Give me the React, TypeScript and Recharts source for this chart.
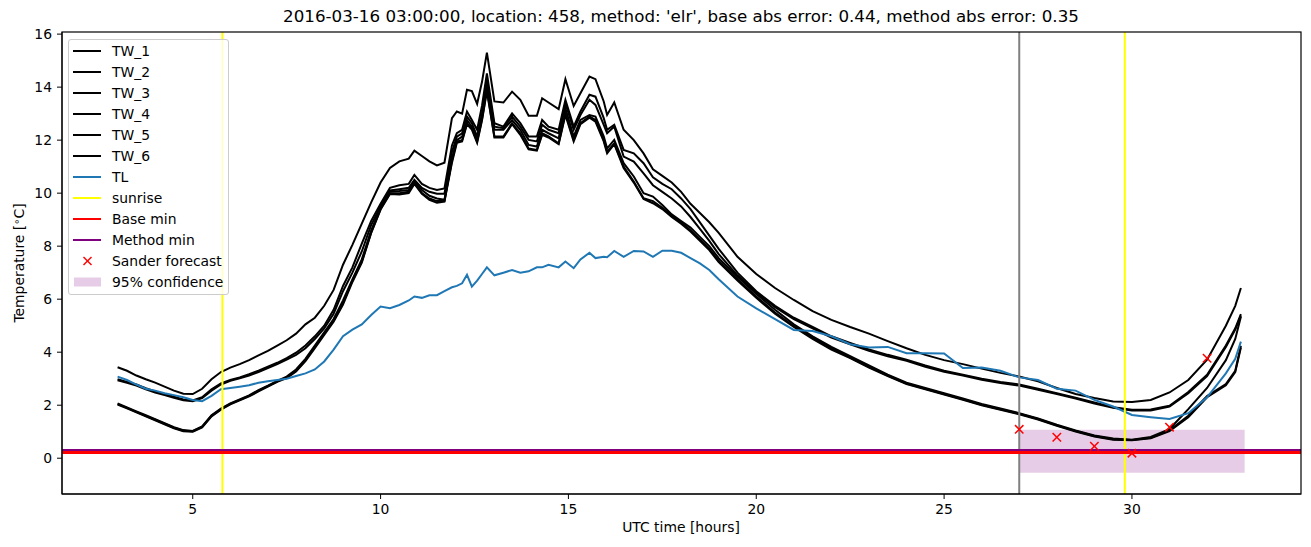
import {
  ComposedChart,
  Line,
  Scatter,
  XAxis,
  YAxis,
  ReferenceLine,
  ReferenceArea,
} from "recharts";

// time axis in hours UTC (finer where the curves are noisy)
const times = [
  3, 3.25, 3.5, 3.75, 4, 4.25, 4.5, 4.75, 5, 5.25,
  5.5, 5.75, 6, 6.25, 6.5, 6.75, 7, 7.25, 7.5, 7.75,
  8, 8.25, 8.5, 8.75, 9, 9.25, 9.5, 9.75, 10, 10.25,
  10.5, 10.75, 10.9, 11.1, 11.3, 11.5, 11.7, 11.9, 12.03, 12.17,
  12.3, 12.43, 12.57, 12.7, 12.83, 13.03, 13.27, 13.5, 13.72, 13.94,
  14.16, 14.3, 14.47, 14.74, 14.92, 15.14, 15.32, 15.56, 15.72, 15.94,
  16.03, 16.22, 16.47, 16.74, 17, 17.25, 17.5, 17.75, 18, 18.25,
  18.5, 18.75, 19, 19.5, 20, 20.5, 21, 21.5, 22, 22.5,
  23, 23.5, 24, 24.5, 25, 25.5, 26, 26.5, 27, 27.5,
  28, 28.5, 29, 29.5, 30, 30.5, 31, 31.5, 32, 32.5,
  32.75, 32.9,
];

const tw1 = [
  3.43, 3.3, 3.12, 2.98, 2.85, 2.7, 2.55, 2.43, 2.42, 2.62,
  2.98, 3.25, 3.42, 3.55, 3.7, 3.88, 4.05, 4.25, 4.45, 4.7,
  5.05, 5.3, 5.75, 6.35, 7.3, 8.05, 8.85, 9.65, 10.4, 10.95,
  11.2, 11.3, 11.6, 11.4, 11.2, 11.05, 11.15, 12.83, 13.08, 13.0,
  13.9, 13.85, 13.37, 14.2, 15.3, 13.46, 13.42, 13.83, 13.52, 12.92,
  12.92, 13.58, 13.42, 13.17, 14.3, 13.29, 13.77, 14.4, 14.3, 13.46,
  12.95, 13.42, 12.39, 12.0, 11.5, 10.9, 10.65, 10.4, 10.05, 9.6,
  9.25, 8.9, 8.5, 7.6, 6.95, 6.42, 5.97, 5.55, 5.22, 4.95,
  4.7, 4.42, 4.15, 3.9, 3.7, 3.55, 3.38, 3.22, 3.08, 2.9,
  2.65, 2.42, 2.27, 2.14, 2.12, 2.2, 2.48, 2.95, 3.72, 5.0,
  5.75, 6.42,
];

const tw2 = [
  2.98, 2.88, 2.78, 2.64, 2.52, 2.42, 2.32, 2.22, 2.18, 2.3,
  2.6, 2.82, 2.95, 3.05, 3.17, 3.3, 3.45, 3.6, 3.78, 3.98,
  4.25, 4.6, 5.0, 5.6, 6.5, 7.2, 8.1, 8.95, 9.6, 10.2,
  10.3, 10.35, 10.69, 10.35, 10.2, 10.12, 10.18, 11.8, 12.26, 12.39,
  13.08, 12.76, 12.39, 13.3, 14.52, 12.64, 12.51, 13.01, 12.64, 12.14,
  12.14, 12.76, 12.51, 12.39, 13.52, 12.51, 13.08, 13.71, 13.64, 12.83,
  12.39, 12.58, 11.63, 11.5, 11.13, 10.6, 10.35, 10.15, 9.8, 9.4,
  8.9, 8.4, 7.9, 7.0, 6.3, 5.75, 5.3, 4.95, 4.6, 4.35,
  4.1, 3.9, 3.72, 3.5, 3.3, 3.15, 3.0, 2.88, 2.78, 2.62,
  2.45, 2.28, 2.1, 1.92, 1.83, 1.84, 1.98, 2.5, 3.15, 4.25,
  4.9, 5.44,
];

const tw3 = [
  2.94, 2.85, 2.74, 2.6, 2.48, 2.38, 2.28, 2.19, 2.15, 2.27,
  2.55, 2.78, 2.92, 3.02, 3.12, 3.25, 3.4, 3.55, 3.72, 3.9,
  4.15, 4.5, 4.9, 5.45, 6.3, 7.0, 7.8, 8.8, 9.5, 10.1,
  10.15, 10.2, 10.5, 10.2, 10.05, 9.98, 9.98, 11.55, 12.13, 12.26,
  12.89, 12.64, 12.14, 13.0, 14.27, 12.51, 12.45, 12.89, 12.51, 12.01,
  11.95, 12.58, 12.39, 12.26, 13.39, 12.39, 12.95, 13.52, 13.33, 12.58,
  12.26, 12.51, 11.38, 11.19, 10.75, 10.3, 10.05, 9.8, 9.5, 9.1,
  8.65, 8.2, 7.7, 6.9, 6.25, 5.7, 5.25, 4.9, 4.55, 4.3,
  4.05, 3.85, 3.68, 3.45, 3.26, 3.12, 2.96, 2.84, 2.74, 2.58,
  2.42, 2.25, 2.06, 1.9, 1.8, 1.8, 1.95, 2.45, 3.1, 4.2,
  4.85, 5.38,
];

const tw4 = [
  2.07, 1.92, 1.77, 1.62, 1.47, 1.32, 1.17, 1.06, 1.03, 1.2,
  1.62, 1.87, 2.07, 2.22, 2.37, 2.57, 2.74, 2.92, 3.08, 3.35,
  3.75, 4.25, 4.75, 5.25, 5.95, 6.75, 7.5, 8.6, 9.45, 10.05,
  10.08, 10.12, 10.45, 10.12, 9.9, 9.8, 9.75, 11.3, 12.0, 12.13,
  12.76, 12.51, 12.01, 12.9, 14.15, 12.39, 12.39, 12.76, 12.39, 11.82,
  11.76, 12.39, 12.26, 12.07, 13.2, 12.14, 12.76, 12.95, 12.89, 12.14,
  11.69, 12.01, 11.13, 10.63, 10.0, 9.87, 9.55, 9.2, 8.95, 8.7,
  8.35, 8.0, 7.55, 6.85, 6.2, 5.6, 5.05, 4.6, 4.2, 3.85,
  3.5, 3.15, 2.85, 2.65, 2.45, 2.25, 2.05, 1.88, 1.7, 1.5,
  1.26, 1.05, 0.86, 0.74, 0.7, 0.8, 1.1, 1.85, 2.65, 3.7,
  4.5, 5.34,
];

const tw5 = [
  2.04, 1.9, 1.75, 1.6, 1.45, 1.3, 1.15, 1.04, 1.02, 1.18,
  1.6, 1.85, 2.05, 2.2, 2.35, 2.55, 2.72, 2.9, 3.05, 3.3,
  3.7, 4.2, 4.7, 5.2, 5.85, 6.7, 7.42, 8.52, 9.4, 10.0,
  10.0, 10.05, 10.4, 10.0, 9.8, 9.7, 9.7, 11.22, 11.95, 12.0,
  12.64, 12.45, 11.95, 12.8, 13.9, 12.14, 12.14, 12.64, 12.26, 11.69,
  11.63, 12.26, 12.14, 11.88, 13.01, 12.01, 12.64, 12.89, 12.76, 12.01,
  11.57, 11.88, 11.0, 10.44, 9.81, 9.7, 9.45, 9.15, 8.9, 8.6,
  8.25, 7.9, 7.45, 6.75, 6.1, 5.5, 4.98, 4.55, 4.15, 3.8,
  3.45, 3.12, 2.82, 2.62, 2.42, 2.22, 2.02, 1.85, 1.68, 1.48,
  1.24, 1.03, 0.84, 0.72, 0.69, 0.77, 1.05, 1.6, 2.35, 2.8,
  3.3, 4.24,
];

const tw6 = [
  2.02, 1.88, 1.73, 1.58, 1.43, 1.28, 1.13, 1.02, 1.0, 1.16,
  1.58, 1.83, 2.03, 2.18, 2.33, 2.52, 2.7, 2.88, 3.02, 3.27,
  3.66, 4.15, 4.65, 5.15, 5.8, 6.65, 7.38, 8.5, 9.38, 9.97,
  9.95, 10.0, 10.35, 9.98, 9.75, 9.64, 9.68, 11.15, 11.9, 11.95,
  12.6, 12.4, 11.9, 12.75, 13.85, 12.1, 12.1, 12.6, 12.2, 11.65,
  11.6, 12.2, 12.1, 11.85, 12.95, 11.95, 12.6, 12.85, 12.7, 11.95,
  11.5, 11.85, 10.95, 10.4, 9.78, 9.62, 9.4, 9.1, 8.85, 8.55,
  8.2, 7.85, 7.4, 6.7, 6.05, 5.45, 4.95, 4.5, 4.1, 3.78,
  3.42, 3.1, 2.8, 2.6, 2.4, 2.2, 2.0, 1.83, 1.66, 1.46,
  1.22, 1.01, 0.82, 0.7, 0.68, 0.75, 1.02, 1.55, 2.3, 2.75,
  3.25, 4.18,
];

const tl = [
  3.08, 2.95, 2.78, 2.62, 2.55, 2.45, 2.38, 2.3, 2.2, 2.15,
  2.35, 2.6, 2.65, 2.7, 2.75, 2.85, 2.9, 2.95, 3.0, 3.1,
  3.2, 3.35, 3.65, 4.1, 4.6, 4.85, 5.05, 5.4, 5.72, 5.66,
  5.78, 5.95, 6.1, 6.05, 6.15, 6.15, 6.3, 6.45, 6.5, 6.6,
  6.92, 6.47, 6.7, 6.95, 7.2, 6.9, 7.0, 7.1, 7.0, 7.05,
  7.2, 7.2, 7.3, 7.2, 7.42, 7.17, 7.5, 7.75, 7.55, 7.6,
  7.58, 7.82, 7.6, 7.82, 7.8, 7.6, 7.83, 7.83, 7.75, 7.55,
  7.35, 7.1, 6.75, 6.1, 5.65, 5.25, 4.84, 4.8, 4.6, 4.3,
  4.18, 4.2, 3.96, 3.96, 3.95, 3.4, 3.42, 3.3, 3.05, 2.95,
  2.62, 2.55, 2.2, 1.95, 1.63, 1.55, 1.48, 1.7, 2.3, 3.2,
  3.75, 4.4,
];

const sanderT = [27, 28, 29, 30, 31, 32];
const sanderV = [1.09, 0.79, 0.45, 0.19, 1.17, 3.77];

const sunrises = [5.79, 29.81];
const forecastStart = 27;
const baseMin = 0.22;
const methodMin = 0.29;
const confLow = -0.55;
const confHigh = 1.07;
const confEnd = 33;

const xTicks = [5, 10, 15, 20, 25, 30];
const yTicks = [0, 2, 4, 6, 8, 10, 12, 14, 16];
const xDomain = [1.52, 34.5];
const yDomain = [-1.35, 16.08];

const twSeries = [tw1, tw2, tw3, tw4, tw5, tw6];

const rows = times.map((t, i) => {
  const r: Record<string, number> = { t, tl: tl[i] };
  twSeries.forEach((s, k) => {
    r[`tw${k + 1}`] = s[i];
  });
  return r;
});

const sanderRows = sanderT.map((t, i) => ({ t, v: sanderV[i] }));

const FONT = "'DejaVu Sans', sans-serif";
const tickStyle = { fill: "#000", fontSize: 13.9, fontFamily: FONT };

// plot box in page pixels (matches margins + axis sizes below)
const PLOT = { left: 62, top: 32, right: 1301, bottom: 494 };

const legendItems = [
  { label: "TW_1", kind: "line", color: "#000000" },
  { label: "TW_2", kind: "line", color: "#000000" },
  { label: "TW_3", kind: "line", color: "#000000" },
  { label: "TW_4", kind: "line", color: "#000000" },
  { label: "TW_5", kind: "line", color: "#000000" },
  { label: "TW_6", kind: "line", color: "#000000" },
  { label: "TL", kind: "line", color: "#1f77b4" },
  { label: "sunrise", kind: "line", color: "#ffff00" },
  { label: "Base min", kind: "line", color: "#ff0000" },
  { label: "Method min", kind: "line", color: "#800080" },
  { label: "Sander forecast", kind: "x", color: "#ff0000" },
  { label: "95% confidence", kind: "patch", color: "#800080" },
];

function XMarker(props: any) {
  const { cx, cy } = props;
  if (cx == null || cy == null) return null;
  const s = 4.2;
  return (
    <g>
      <line x1={cx - s} y1={cy - s} x2={cx + s} y2={cy + s} stroke="#ff0000" strokeWidth={1.5} />
      <line x1={cx - s} y1={cy + s} x2={cx + s} y2={cy - s} stroke="#ff0000" strokeWidth={1.5} />
    </g>
  );
}

function Legend() {
  return (
    <div
      style={{
        position: "absolute",
        left: 68,
        top: 39,
        width: 161,
        height: 256,
        border: "1px solid #cccccc",
        borderRadius: 3,
        background: "rgba(255,255,255,0.8)",
        boxSizing: "border-box",
      }}
    >
      <svg width={161} height={256} style={{ position: "absolute", left: -1, top: -1 }}>
        {legendItems.map((it, i) => {
          const y = 12 + i * 21;
          let handle;
          if (it.kind === "line") {
            handle = <line x1={5} x2={33} y1={y} y2={y} stroke={it.color} strokeWidth={2} />;
          } else if (it.kind === "x") {
            handle = (
              <g>
                <line x1={15.5} y1={y - 4} x2={23.5} y2={y + 4} stroke={it.color} strokeWidth={1.5} />
                <line x1={15.5} y1={y + 4} x2={23.5} y2={y - 4} stroke={it.color} strokeWidth={1.5} />
              </g>
            );
          } else {
            handle = <rect x={6} y={y - 4.5} width={27} height={9} fill={it.color} fillOpacity={0.2} />;
          }
          return (
            <g key={it.label}>
              {handle}
              <text x={44} y={y} dominantBaseline="central" fontSize={13.9} fontFamily={FONT} fill="#000">
                {it.label}
              </text>
            </g>
          );
        })}
      </svg>
    </div>
  );
}

export default function App() {
  return (
    <div
      style={{
        position: "fixed",
        left: 0,
        top: 0,
        width: 1311,
        height: 547,
        background: "#fff",
        fontFamily: FONT,
      }}
    >
      <ComposedChart
        width={1311}
        height={547}
        data={rows}
        margin={{ top: 32, right: 10, bottom: 0, left: 0 }}
      >
        <XAxis
          dataKey="t"
          type="number"
          domain={xDomain}
          ticks={xTicks}
          allowDataOverflow
          height={53}
          tick={tickStyle}
          tickSize={5}
          tickMargin={5}
          stroke="#000"
        />
        <YAxis
          type="number"
          domain={yDomain}
          ticks={yTicks}
          allowDataOverflow
          width={62}
          tick={tickStyle}
          tickSize={5}
          tickMargin={5}
          stroke="#000"
        />
        <ReferenceArea
          x1={forecastStart}
          x2={confEnd}
          y1={confLow}
          y2={confHigh}
          fill="#800080"
          fillOpacity={0.2}
          stroke="none"
        />
        {twSeries.map((_, k) => (
          <Line
            key={k}
            type="linear"
            dataKey={`tw${k + 1}`}
            stroke="#000000"
            strokeWidth={2}
            dot={false}
            isAnimationActive={false}
          />
        ))}
        <Line
          type="linear"
          dataKey="tl"
          stroke="#1f77b4"
          strokeWidth={2}
          dot={false}
          isAnimationActive={false}
        />
        {sunrises.map((s) => (
          <ReferenceLine key={s} x={s} stroke="#ffff00" strokeWidth={2} />
        ))}
        <ReferenceLine x={forecastStart} stroke="#808080" strokeWidth={2} />
        <ReferenceLine y={methodMin} stroke="#800080" strokeWidth={3} />
        <ReferenceLine y={baseMin} stroke="#ff0000" strokeWidth={3} />
        <Scatter
          data={sanderRows}
          dataKey="v"
          shape={<XMarker />}
          isAnimationActive={false}
        />
      </ComposedChart>
      <svg
        width={1311}
        height={547}
        style={{ position: "absolute", left: 0, top: 0, pointerEvents: "none" }}
      >
        <rect
          x={PLOT.left}
          y={PLOT.top}
          width={PLOT.right - PLOT.left}
          height={PLOT.bottom - PLOT.top}
          fill="none"
          stroke="#000"
          strokeWidth={1.2}
        />
      </svg>
      <Legend />
      <div
        style={{
          position: "absolute",
          left: 681,
          top: 6,
          transform: "translateX(-50%)",
          whiteSpace: "nowrap",
          fontSize: 16.7,
          lineHeight: "20px",
          color: "#000",
        }}
      >
        2016-03-16 03:00:00, location: 458, method: 'elr', base abs error: 0.44, method abs error: 0.35
      </div>
      <div
        style={{
          position: "absolute",
          left: 681,
          top: 518,
          transform: "translateX(-50%)",
          whiteSpace: "nowrap",
          fontSize: 13.9,
          lineHeight: "18px",
          color: "#000",
        }}
      >
        UTC time [hours]
      </div>
      <div
        style={{
          position: "absolute",
          left: 18,
          top: 263,
          transform: "translate(-50%, -50%) rotate(-90deg)",
          whiteSpace: "nowrap",
          fontSize: 13.9,
          lineHeight: "18px",
          color: "#000",
        }}
      >
        Temperature [<sup style={{ fontSize: 10, verticalAlign: "4px" }}>∘</sup>C]
      </div>
    </div>
  );
}
